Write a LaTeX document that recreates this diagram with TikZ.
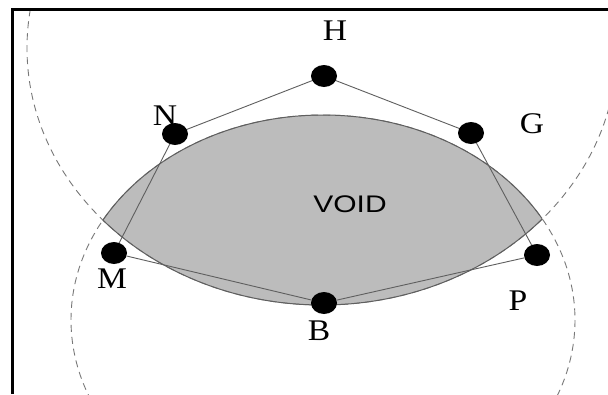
\documentclass[tikz,border=0pt]{standalone}
\usepackage{fontspec}
\usepackage{graphicx}
\setmainfont{Liberation Serif}
\newfontfamily\sansf{Liberation Sans}
\usetikzlibrary{shapes.geometric}
\definecolor{lensgray}{RGB}{188,188,188}
\definecolor{edgegray}{RGB}{95,95,95}
\definecolor{dashgray}{RGB}{120,120,120}
\tikzset{
  dot/.style={ellipse, fill=black, draw=none, minimum width=26pt, minimum height=22pt, inner sep=0pt},
  lbl/.style={inner sep=0pt, font=\fontsize{30}{30}\selectfont},
  edge/.style={draw=edgegray, line width=0.9pt},
  dashedarc/.style={draw=dashgray, line width=0.9pt, dash pattern=on 7pt off 5pt},
  lensedge/.style={draw=edgegray, line width=1pt}
}
\begin{document}
\begin{tikzpicture}[x=1pt,y=-1pt]
\useasboundingbox (0,0) rectangle (608,394);
\fill[white] (0,0) rectangle (608,394);
\begin{scope}
  \clip (12,9) rectangle (608,394);
  % lens fill
  \begin{scope}
    \clip (322,48) ellipse [x radius=295, y radius=257];
    \fill[lensgray] (323,320) ellipse [x radius=252, y radius=205];
  \end{scope}
  % dashed circles
  \draw[dashedarc] (322,48) ellipse [x radius=295, y radius=257];
  \draw[dashedarc] (323,320) ellipse [x radius=252, y radius=205];
  % lens boundaries
  \begin{scope}
    \clip (322,48) ellipse [x radius=295, y radius=257];
    \draw[lensedge] (323,320) ellipse [x radius=252, y radius=205];
  \end{scope}
  \begin{scope}
    \clip (323,320) ellipse [x radius=252, y radius=205];
    \draw[lensedge] (322,48) ellipse [x radius=295, y radius=257];
  \end{scope}
\end{scope}
% frame (left and top)
\draw[line width=3pt] (12,394) -- (12,9) -- (608,9);
% points
\node[dot] (H) at (324,76) {};
\node[dot] (N) at (175,134) {};
\node[dot] (G) at (471,133) {};
\node[dot] (M) at (114,253) {};
\node[dot] (P) at (537,255) {};
\node[dot] (B) at (324,303) {};
% connectors
\draw[edge] (N) -- (H);
\draw[edge] (H) -- (G);
\draw[edge] (N) -- (M);
\draw[edge] (G) -- (P);
\draw[edge] (M) -- (B);
\draw[edge] (B) -- (P);
% labels
\node[lbl] (Hl) at (335,31) {\scalebox{1.12}[1]{H}};
\node[lbl] (Nl) at (165,116) {\scalebox{1.12}[1]{N}};
\node[lbl] (Gl) at (532,124) {\scalebox{1.12}[1]{G}};
\node[lbl] (Ml) at (112,279) {\scalebox{1.12}[1]{M}};
\node[lbl] (Pl) at (518,301) {\scalebox{1.12}[1]{P}};
\node[lbl] (Bl) at (319,331) {\scalebox{1.12}[1]{B}};
\node[inner sep=0pt, font=\sansf\fontsize{24}{24}\selectfont] (void) at (350,204) {\scalebox{1.25}[1]{VOID}};
\end{tikzpicture}
\end{document}
